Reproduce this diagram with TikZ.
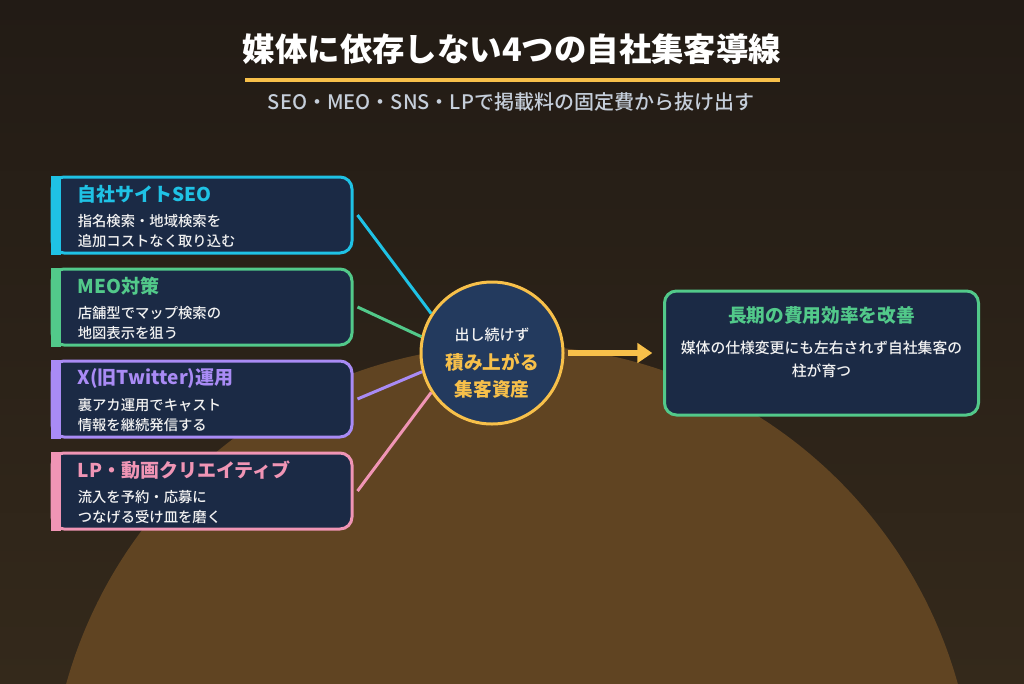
\documentclass[tikz,border=0pt]{standalone}
\usepackage{fontspec}
\setmainfont{Noto Sans CJK JP}
\newfontfamily\medfont{Noto Sans CJK JP Medium}
\usetikzlibrary{calc,arrows.meta}
\definecolor{bgtop}{HTML}{221B15}
\definecolor{bgbot}{HTML}{34291B}
\definecolor{mound}{HTML}{604422}
\definecolor{navy}{HTML}{1B2A45}
\definecolor{hubfill}{HTML}{233A5E}
\definecolor{cyanc}{HTML}{1FC2E5}
\definecolor{greenc}{HTML}{52C98A}
\definecolor{purplec}{HTML}{A98BF5}
\definecolor{pinkc}{HTML}{F095B5}
\definecolor{gold}{HTML}{F7C04A}
\definecolor{txtw}{HTML}{F2F2F2}
\definecolor{subc}{HTML}{C5CEDA}
\begin{document}
\begin{tikzpicture}[x=0.75pt,y=-0.75pt,
  srcbox/.style={minimum width=225pt, minimum height=57pt, inner sep=0pt, fill=navy, draw=#1, line width=2.25pt, rounded corners=9pt},
  srctitle/.style={anchor=west, inner sep=0pt, text=#1, font=\bfseries\fontsize{14.25pt}{16pt}\selectfont},
  srcbody/.style={anchor=west, inner sep=0pt, align=left, text=txtw, font=\medfont\fontsize{10.75pt}{15pt}\selectfont},
  link/.style={draw=#1, line width=2.25pt},
  hubtext/.style={inner sep=0pt, text=gold, font=\bfseries\fontsize{14pt}{16pt}\selectfont},
  flow/.style={draw=gold, line width=4.5pt, -{Triangle[length=11.25pt,width=14.5pt]}, shorten <=2.5pt, shorten >=8pt}
]
\useasboundingbox (0,0) rectangle (1024,683);
\shade[top color=bgtop, bottom color=bgbot] (0,0) rectangle (1024,683);
\begin{scope}
  \clip (0,0) rectangle (1024,683);
  \fill[mound] (512,808) circle[radius=347pt];
\end{scope}

% title
\node[inner sep=0pt, text=white, font=\bfseries\fontsize{24.3pt}{28pt}\selectfont] (title) at (512,49) {媒体に依存しない4つの自社集客導線};
\coordinate (ulA) at (245,80);
\coordinate (ulB) at (780,80);
\draw[gold, line width=2.6pt] (ulA) -- (ulB);
\node[inner sep=0pt, text=subc, font=\medfont\fontsize{15pt}{17pt}\selectfont] (subtitle) at (511,102) {SEO・MEO・SNS・LPで掲載料の固定費から抜け出す};

% source boxes
\foreach \n/\y/\c in {1/215/cyanc, 2/307/greenc, 3/399/purplec, 4/491/pinkc}{
  \node[srcbox=\c] (b\n) at (202,\y) {};
  \fill[\c] (b\n.north west) rectangle ($(b\n.south west)+(10,0)$);
}
\node[srctitle=cyanc] (t1) at ($(b1.north west)+(27,19)$) {自社サイトSEO};
\node[srcbody] (d1) at ($(b1.north west)+(27,56)$) {指名検索・地域検索を\\追加コストなく取り込む};
\node[srctitle=greenc] (t2) at ($(b2.north west)+(27,19)$) {MEO対策};
\node[srcbody] (d2) at ($(b2.north west)+(27,56)$) {店舗型でマップ検索の\\地図表示を狙う};
\node[srctitle=purplec] (t3) at ($(b3.north west)+(27,19)$) {X(旧Twitter)運用};
\node[srcbody] (d3) at ($(b3.north west)+(27,56)$) {裏アカ運用でキャスト\\情報を継続発信する};
\node[srctitle=pinkc] (t4) at ($(b4.north west)+(27,19)$) {LP・動画クリエイティブ};
\node[srcbody] (d4) at ($(b4.north west)+(27,56)$) {流入を予約・応募に\\つなげる受け皿を磨く};

% hub
\node[circle, minimum size=106.5pt, inner sep=0pt, fill=hubfill, draw=gold, line width=2.25pt] (hub) at (492,353) {};
\node[inner sep=0pt, text=txtw, font=\medfont\fontsize{11.25pt}{13pt}\selectfont] (h1) at (492,335) {出し続けず};
\node[hubtext] (h2) at (492,362) {積み上がる};
\node[hubtext] (h3) at (492,389) {集客資産};

% connectors
\draw[link=cyanc] ($(b1.east)+(4,0)$) -- (hub.147.7);
\draw[link=greenc] ($(b2.east)+(4,0)$) -- (hub.167);
\draw[link=purplec] ($(b3.east)+(4,0)$) -- (hub.195);
\draw[link=pinkc] ($(b4.east)+(4,0)$) -- (hub.213);

% result box
\node[minimum width=235.5pt, minimum height=93pt, inner sep=0pt, fill=navy, draw=greenc, line width=2.25pt, rounded corners=9pt] (rb) at (821.5,353) {};
\node[inner sep=0pt, text=greenc, font=\bfseries\fontsize{14pt}{16pt}\selectfont] (rt) at (821.5,315) {長期の費用効率を改善};
\node[inner sep=0pt, text=txtw, align=center, font=\medfont\fontsize{11.1pt}{17.25pt}\selectfont] (rd) at (821.5,359.5) {媒体の仕様変更にも左右されず自社集客の\\柱が育つ};

\draw[flow] (hub.east) -- (rb.west);
\end{tikzpicture}
\end{document}
